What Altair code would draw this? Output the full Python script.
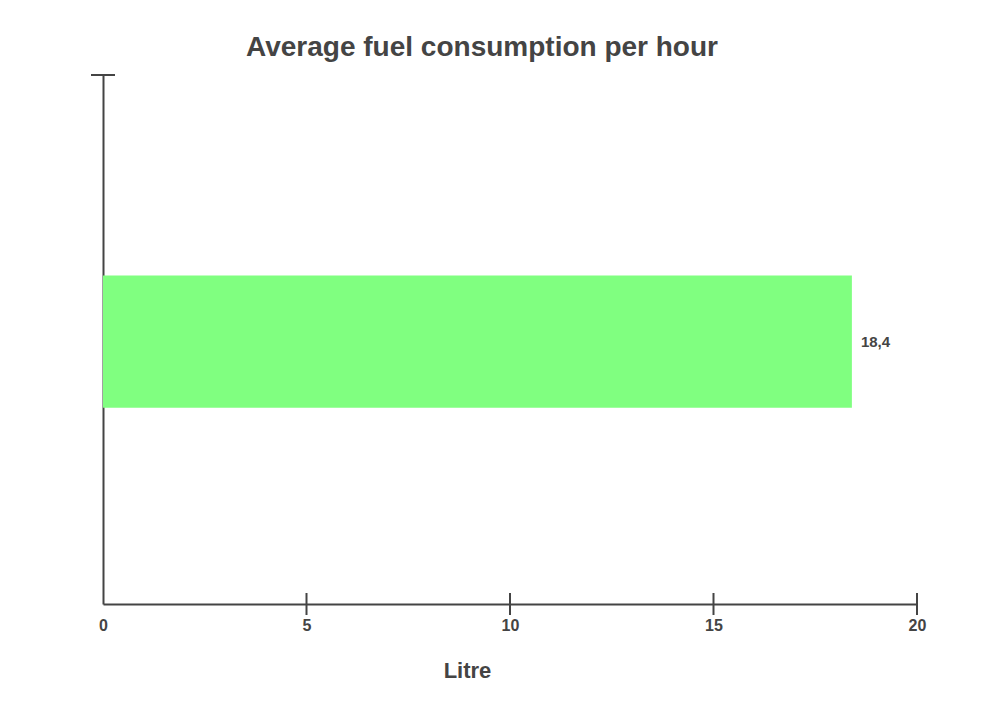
import altair as alt
import pandas as pd

categories = ["Fuel"]
values = [18.4]
value_labels = ["18,4"]
tick_values = [0, 5, 10, 15, 20]
cross_ticks = [5, 10, 15, 20]

FONT = "Liberation Sans"
GREY = "#444444"

bars = pd.DataFrame({"cat": categories, "litre": values, "label": value_labels})
ticks = pd.DataFrame({"litre": cross_ticks})
one = pd.DataFrame({"k": [0]})

x_scale = alt.Scale(domain=[0, 20], nice=False, zero=True)
x_axis = alt.Axis(
    values=tick_values, grid=False, ticks=False, tickSize=0,
    domainColor=GREY, domainWidth=2,
    labelFont=FONT, labelFontSize=16, labelFontWeight="bold", labelColor=GREY,
    labelPadding=13, labelFlush=False,
    title="Litre", titleFont=FONT, titleFontSize=22, titleFontWeight="bold",
    titleColor=GREY, titleX=364, titleY=73, titleBaseline="alphabetic",
    titleAlign="center", titleAnchor="start",
)
x_enc = alt.X("litre:Q", scale=x_scale, axis=x_axis)
y_enc = alt.Y(
    "cat:N",
    scale=alt.Scale(paddingInner=0.75, paddingOuter=0.375),
    axis=alt.Axis(labels=False, ticks=False, title=None, grid=False,
                  domainColor=GREY, domainWidth=2),
)

bar = alt.Chart(bars).mark_bar(color="#80FF80", yOffset=2).encode(x=x_enc, y=y_enc)
text = alt.Chart(bars).mark_text(
    align="left", baseline="middle", dx=9, dy=2, font=FONT, fontSize=15,
    fontWeight="bold", color=GREY,
).encode(x=x_enc, y=y_enc, text="label:N")
tick_rules = alt.Chart(ticks).mark_rule(color=GREY, strokeWidth=2).encode(
    x=x_enc, y=alt.value(518), y2=alt.value(540)
)
top_tick = alt.Chart(one).mark_rule(color=GREY, strokeWidth=2).encode(
    x=alt.value(-12), x2=alt.value(12), y=alt.value(0)
)

chart = (
    alt.layer(bar, text, tick_rules, top_tick)
    .properties(
        width=814, height=529,
        title=alt.TitleParams(
            "Average fuel consumption per hour", font=FONT, fontSize=28,
            fontWeight="bold", color=GREY, baseline="alphabetic", offset=19,
            dx=-28, dy=29, anchor="middle",
        ),
        autosize=alt.AutoSizeParams(type="none"),
        padding={"left": 95, "top": 67, "right": 70, "bottom": 90},
    )
    .configure(background="white", view=alt.ViewConfig(stroke=None, strokeWidth=0))
)

chart.save("out.html", embed_options={"renderer": "svg", "actions": False})
